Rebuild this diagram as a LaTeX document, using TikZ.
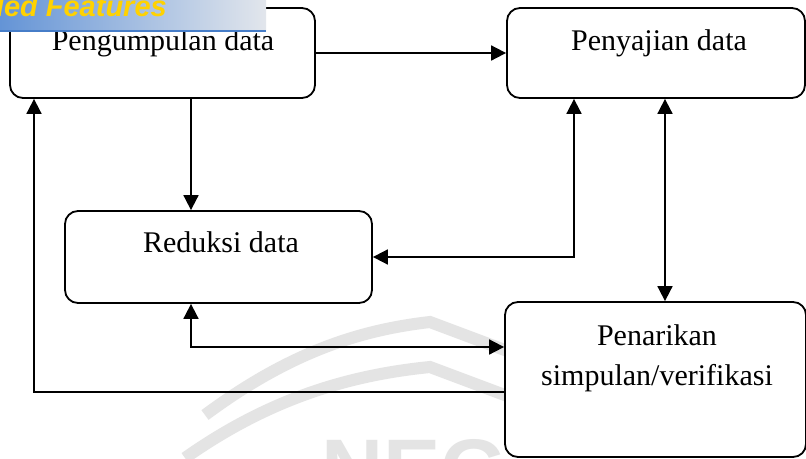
\documentclass[tikz,border=0pt]{standalone}
\usepackage{fontspec}
\setmainfont{Liberation Serif}
\newfontfamily\bannerfont{Liberation Sans}
\usetikzlibrary{arrows.meta}
\definecolor{wmgray}{RGB}{228,228,228}
\definecolor{bannerL}{RGB}{100,148,214}
\definecolor{bannerR}{RGB}{226,230,236}
\definecolor{bannerLine}{RGB}{70,125,200}
\definecolor{bannerText}{RGB}{255,210,0}
\begin{document}
\begin{tikzpicture}[x=1pt,y=-1pt,
  box/.style={draw=black, line width=1.8pt, rounded corners=13pt, fill=white, inner sep=0pt},
  lbl/.style={font=\fontsize{30}{36}\selectfont, inner sep=0pt, anchor=base},
  conn/.style={line width=1.8pt, draw=black},
  tipend/.style={-{Triangle[length=15pt,width=15pt]}},
  tipboth/.style={{Triangle[length=15pt,width=15pt]}-{Triangle[length=15pt,width=15pt]}},
  band/.style={draw=wmgray, line width=12pt}
]
\useasboundingbox (0,0) rectangle (806,458);
\fill[white] (0,0) rectangle (806,458);

% watermark
\draw[band] (205,415) .. controls (290,352) and (360,330) .. (430,322) -- (510,352);
\draw[band] (185,458) .. controls (270,398) and (350,375) .. (430,367) -- (510,397);
\node[font=\bannerfont\bfseries\fontsize{86}{86}\selectfont, text=wmgray, anchor=base west, inner sep=0pt] (wm) at (321,499) {NEG};

% boxes
\node[box, minimum width=305pt, minimum height=90pt] (b1) at (162.5,53) {};
\node[box, minimum width=298pt, minimum height=90pt] (b2) at (656,53) {};
\node[box, minimum width=307pt, minimum height=92pt] (b3) at (218.5,257) {};
\node[box, minimum width=301pt, minimum height=155pt] (b4) at (655.5,379.5) {};

% labels
\node[lbl] (t1) at (163,50) {Pengumpulan data};
\node[lbl] (t2) at (659,50) {Penyajian data};
\node[lbl] (t3) at (221,252) {Reduksi data};
\node[lbl] (t4a) at (657,345) {Penarikan};
\node[lbl] (t4b) at (657,385) {simpulan/verifikasi};

% guide coordinates
\coordinate (xA) at (191,0);
\coordinate (xB) at (574,0);
\coordinate (xC) at (665,0);
\coordinate (xD) at (34,0);
\coordinate (yA) at (0,347);
\coordinate (yB) at (0,392);

% connectors
\draw[conn, tipend] (b1.east) -- (b2.west);
\draw[conn, tipend] (xA |- b1.south) -- (xA |- b3.north);
\draw[conn, tipboth] (b3.east) -| (xB |- b2.south);
\draw[conn, tipboth] (xC |- b2.south) -- (xC |- b4.north);
\draw[conn, tipboth] (xA |- b3.south) |- (b4.west |- yA);
\draw[conn, tipend] (b4.west |- yB) -| (xD |- b1.south);

% banner
\shade[left color=bannerL, right color=bannerR] (0,0) rectangle (266,31);
\draw[bannerLine, line width=2pt] (0,31) -- (266,31);
\begin{scope}
\clip (0,0) rectangle (266,30);
\node[font=\bannerfont\bfseries\itshape\fontsize{29}{29}\selectfont, text=bannerText, anchor=base east, inner sep=0pt] (bt) at (167,16.5) {ded Features};
\end{scope}
\end{tikzpicture}
\end{document}
